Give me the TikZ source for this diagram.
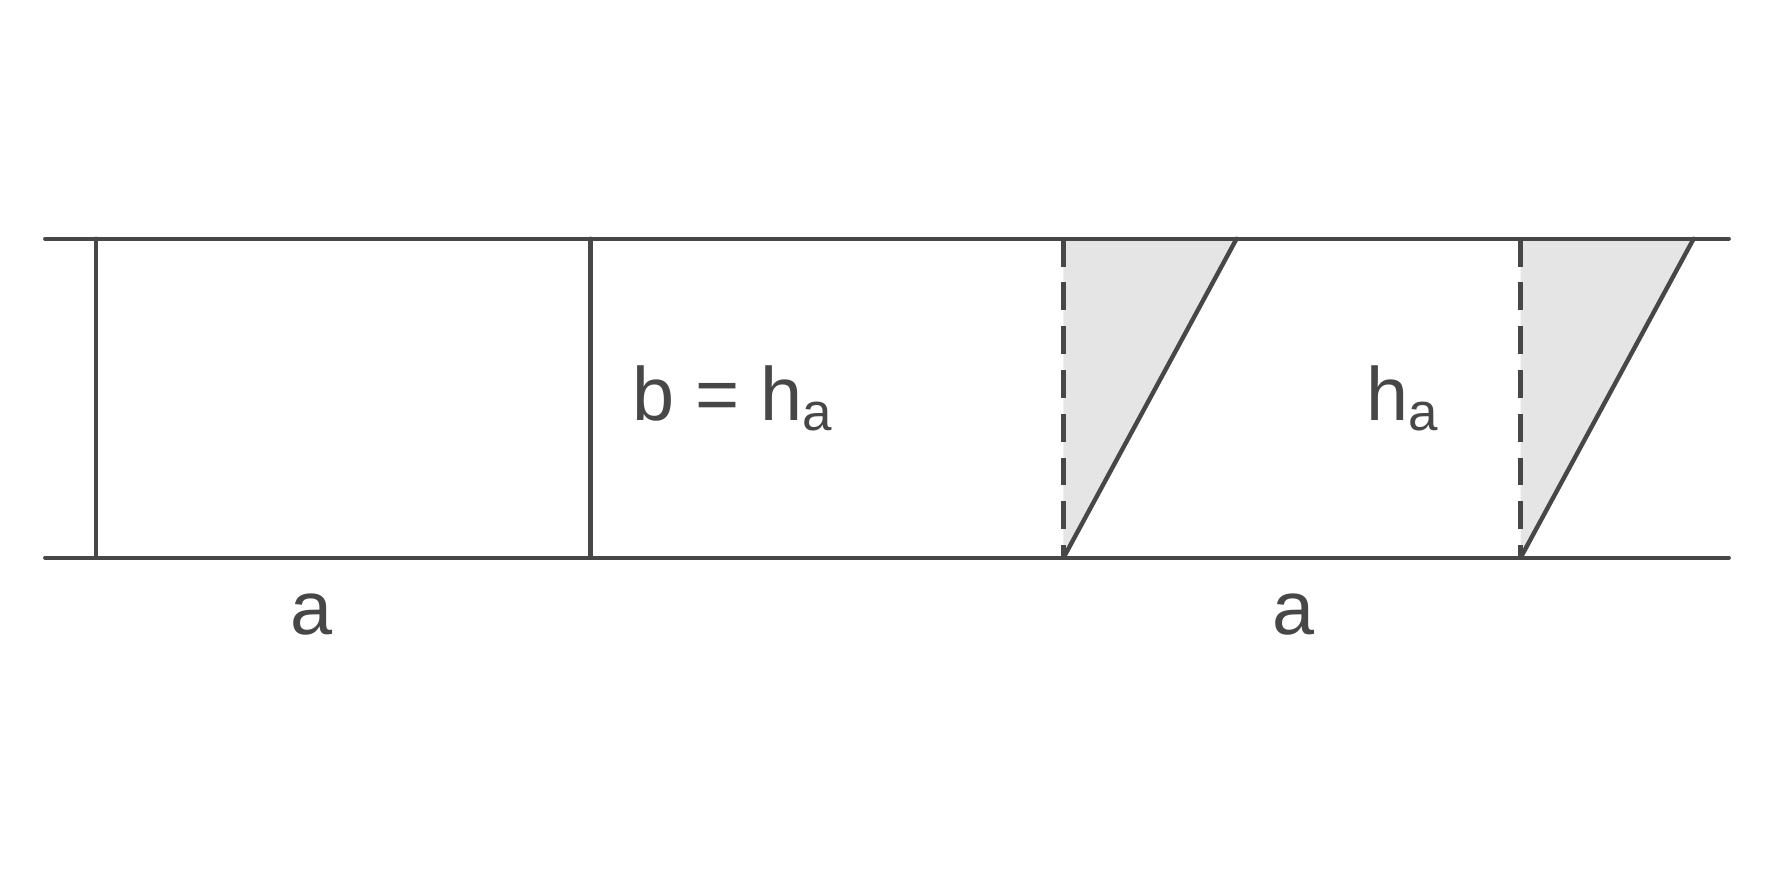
\documentclass[tikz,border=0pt]{standalone}
\usepackage{fontspec}
\setmainfont{Liberation Sans}
\begin{document}
\begin{tikzpicture}[x=0.01cm,y=-0.01cm,
  ln/.style={draw=black!72,line width=1.1pt,line cap=round},
  dsh/.style={draw=black!72,line width=1.1pt,dash pattern=on 7pt off 4pt},
  lbl/.style={text=black!72,font=\fontsize{19}{22}\selectfont}]
\useasboundingbox (0,0) rectangle (1568,784);
\fill[black!10] (940,211) -- (1093,211) -- (940,493) -- cycle;
\fill[black!10] (1344,211) -- (1497,211) -- (1344,493) -- cycle;
\coordinate (tl) at (40,211); \coordinate (tr) at (1528,211);
\coordinate (bl) at (40,493); \coordinate (br) at (1528,493);
\draw[ln] (tl) -- (tr);
\draw[ln] (bl) -- (br);
\draw[ln] (85,211) -- (85,493);
\draw[ln] (522,211) -- (522,493);
\draw[dsh] (940,211) -- (940,493);
\draw[dsh] (1344,211) -- (1344,493);
\draw[ln] (940,493) -- (1093,211);
\draw[ln] (1344,493) -- (1497,211);
\node[lbl] (b) at (648,352) {b = h$_{\mathrm{a}}$};
\node[lbl] (h) at (1240,352) {h\textsubscript{a}};
\node[lbl] (a1) at (275,543) {a};
\node[lbl] (a2) at (1143,543) {a};
\end{tikzpicture}
\end{document}
